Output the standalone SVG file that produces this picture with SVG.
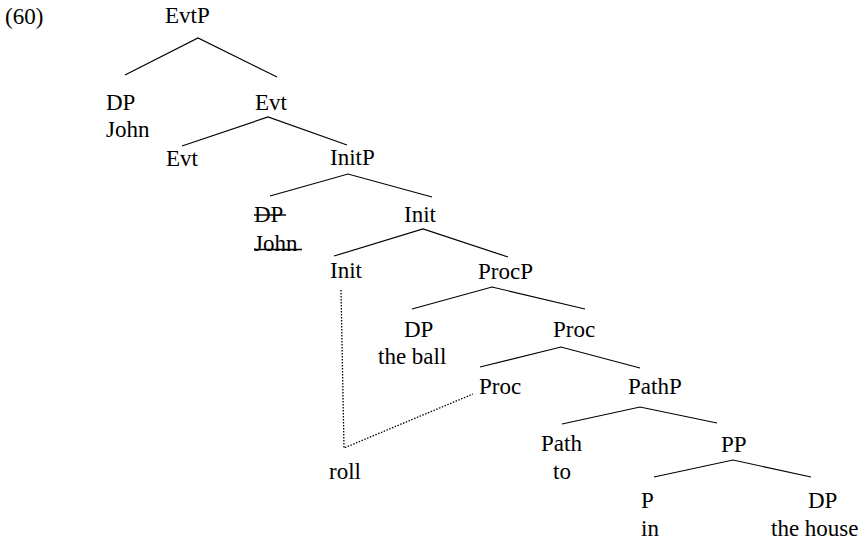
<svg xmlns="http://www.w3.org/2000/svg" width="867" height="543" viewBox="0 0 867 543">
  <style>
    text { font-family: "Liberation Serif", "Times New Roman", serif; font-size: 23px; fill: #000; }
    .edge { stroke: #000; stroke-width: 1.2; fill: none; }
    .trace { stroke: #000; stroke-width: 1.3; fill: none; stroke-dasharray: 1.5 1.5; }
    .strike { stroke: #000; stroke-width: 1.4; }
  </style>
  <rect width="867" height="543" fill="#fff"/>

  <text id="label" x="5" y="24">(60)</text>

  <!-- tree branches -->
  <g id="connectors">
    <path class="edge" d="M125,75 L198,38 L277,77"/>
    <path class="edge" d="M182,146 L268,117 L347,145"/>
    <path class="edge" d="M270,196 L348,174 L432,197"/>
    <path class="edge" d="M334,256 L423,229 L508,257"/>
    <path class="edge" d="M412,309 L492,287 L585,309"/>
    <path class="edge" d="M480,367 L561,347 L640,368"/>
    <path class="edge" d="M562,424 L640,407 L717,423"/>
    <path class="edge" d="M654,477 L733,460 L811,477"/>
    <!-- head movement: Init and Proc both linked to "roll" -->
    <path class="trace" d="M341,290 L344,448 L473,394"/>
  </g>

  <g id="EvtP"><text x="165" y="23">EvtP</text></g>
  <g id="DP-John"><text x="106" y="110">DP</text><text x="106" y="137">John</text></g>
  <g id="Evt"><text x="255" y="110">Evt</text></g>
  <g id="Evt-head"><text x="166" y="166">Evt</text></g>
  <g id="InitP"><text x="330" y="165">InitP</text></g>
  <g id="DP-John-copy">
    <text x="254" y="222">DP</text>
    <text x="254" y="251">John</text>
    <line class="strike" x1="254" y1="215" x2="286" y2="215"/>
    <line class="strike" x1="254" y1="249.5" x2="302" y2="249.5"/>
  </g>
  <g id="Init"><text x="404" y="222">Init</text></g>
  <g id="Init-head"><text x="330" y="278">Init</text></g>
  <g id="ProcP"><text x="478" y="279">ProcP</text></g>
  <g id="DP-ball"><text x="404" y="337">DP</text><text x="378" y="364">the ball</text></g>
  <g id="Proc"><text x="553" y="337">Proc</text></g>
  <g id="Proc-head"><text x="479" y="394">Proc</text></g>
  <g id="PathP"><text x="628" y="394">PathP</text></g>
  <g id="roll"><text x="329" y="479">roll</text></g>
  <g id="Path"><text x="541" y="451">Path</text><text x="553" y="479">to</text></g>
  <g id="PP"><text x="721" y="452">PP</text></g>
  <g id="P"><text x="641" y="508">P</text><text x="641" y="536">in</text></g>
  <g id="DP-house"><text x="808" y="508">DP</text><text x="771" y="536">the house</text></g>
</svg>
